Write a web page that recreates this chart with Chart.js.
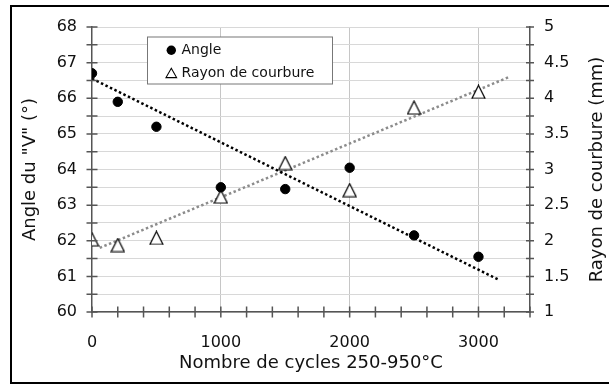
<!DOCTYPE html>
<html>
<head>
<meta charset="utf-8">
<script src="https://cdn.jsdelivr.net/npm/chart.js@4.4.0/dist/chart.umd.min.js"></script>
<style>
    html, body { margin: 0; padding: 0; background: #fff; overflow: hidden; }
    #frame { position: absolute; left: 10px; top: 5px; width: 700px; height: 375px; border: 2px solid #000; }
    #myChart { position: absolute; left: 0; top: 0; }
</style>
</head>
<body>
<div id="frame"></div>
<canvas id="myChart" width="609" height="385"></canvas>
<script>
// measurements
var cycles = [0, 200, 500, 1000, 1500, 2000, 2500, 3000];
var angle = [66.7, 65.9, 65.2, 63.5, 63.45, 64.05, 62.15, 61.55];
var rayon = [2.02, 1.94, 2.04, 2.62, 3.09, 2.71, 3.87, 4.09];

// trend lines (end points)
var angleTrendX = [0, 3160];
var angleTrendY = [66.55, 60.9];
var rayonTrendX = [60, 3240];
var rayonTrendY = [1.9, 4.3];

var FONT = 'DejaVu Sans';
var TEXT = '#111';
var AXIS = '#555';

function pairs(xs, ys) {
    return xs.map(function(x, i) { return { x: x, y: ys[i] }; });
}

// open triangle marker, centred on its bounding box
function triangleMarker(size, lw) {
    var c = document.createElement('canvas');
    c.width = size + 2;
    c.height = size + 2;
    var g = c.getContext('2d');
    g.lineWidth = lw;
    g.strokeStyle = '#000';
    g.fillStyle = '#fff';
    g.beginPath();
    g.moveTo(c.width / 2, 1);
    g.lineTo(c.width - 1, c.height - 1);
    g.lineTo(1, c.height - 1);
    g.closePath();
    g.fill();
    g.stroke();
    return c;
}

var triMarker = triangleMarker(13, 1.2);

var decor = {
    id: 'decor',
    afterDraw: function(chart) {
        var ctx = chart.ctx;
        var area = chart.chartArea;
        var sx = chart.scales.x, sy = chart.scales.y, sy1 = chart.scales.y1;
        ctx.save();
        ctx.strokeStyle = AXIS;
        ctx.lineWidth = 1.5;
        ctx.beginPath();
        sx.ticks.forEach(function(t) {
            var p = sx.getPixelForValue(t.value);
            ctx.moveTo(p, area.bottom - 5.5);
            ctx.lineTo(p, area.bottom + 5.5);
        });
        sy.ticks.forEach(function(t) {
            var p = sy.getPixelForValue(t.value);
            ctx.moveTo(area.left - 5.5, p);
            ctx.lineTo(area.left + 5.5, p);
        });
        sy1.ticks.forEach(function(t) {
            var p = sy1.getPixelForValue(t.value);
            ctx.moveTo(area.right - 4, p);
            ctx.lineTo(area.right + 4, p);
        });
        ctx.stroke();

        // right axis title, reading bottom to top
        ctx.fillStyle = TEXT;
        ctx.font = '18px "' + FONT + '"';
        ctx.textAlign = 'center';
        ctx.textBaseline = 'middle';
        ctx.translate(597, (area.top + area.bottom) / 2);
        ctx.rotate(-Math.PI / 2);
        ctx.fillText('Rayon de courbure (mm)', 0, 0);
        ctx.restore();

        // legend box
        ctx.save();
        ctx.fillStyle = '#fff';
        ctx.fillRect(147.5, 37, 185, 47);
        ctx.strokeStyle = '#777';
        ctx.lineWidth = 1;
        ctx.strokeRect(147.5, 37, 185, 47);
        ctx.fillStyle = '#000';
        ctx.beginPath();
        ctx.arc(171.3, 50.3, 4.7, 0, Math.PI * 2);
        ctx.fill();
        ctx.strokeStyle = '#000';
        ctx.lineWidth = 1.1;
        ctx.beginPath();
        ctx.moveTo(171.3, 68.3);
        ctx.lineTo(176.6, 77.6);
        ctx.lineTo(166, 77.6);
        ctx.closePath();
        ctx.stroke();
        ctx.fillStyle = TEXT;
        ctx.font = '14px "' + FONT + '"';
        ctx.textAlign = 'left';
        ctx.textBaseline = 'middle';
        ctx.fillText(chart.data.datasets[0].label, 181.5, 50);
        ctx.fillText(chart.data.datasets[1].label, 181.5, 73);
        ctx.restore();
    }
};

Chart.defaults.font.family = FONT;
Chart.defaults.color = TEXT;

var ctx = document.getElementById('myChart').getContext('2d');
var chart = new Chart(ctx, {
    type: 'scatter',
    data: {
        datasets: [
            {
                label: 'Angle',
                data: pairs(cycles, angle),
                yAxisID: 'y',
                pointStyle: 'circle',
                pointRadius: 4.7,
                backgroundColor: '#000',
                borderColor: '#000',
                borderWidth: 1
            },
            {
                label: 'Rayon de courbure',
                data: pairs(cycles, rayon),
                yAxisID: 'y1',
                pointStyle: triMarker,
                pointRadius: 7
            },
            {
                label: 'Angle (tendance)',
                data: pairs(angleTrendX, angleTrendY),
                yAxisID: 'y',
                showLine: true,
                fill: false,
                borderColor: '#000',
                borderWidth: 2.5,
                borderDash: [2.5, 2.5],
                pointRadius: 0
            },
            {
                label: 'Rayon (tendance)',
                data: pairs(rayonTrendX, rayonTrendY),
                yAxisID: 'y1',
                showLine: true,
                fill: false,
                borderColor: '#8c8c8c',
                borderWidth: 2.5,
                borderDash: [2.5, 2.5],
                pointRadius: 0
            }
        ]
    },
    options: {
        responsive: false,
        animation: false,
        layout: {
            padding: { top: 27, left: 0, right: 0, bottom: 0 }
        },
        scales: {
            x: {
                type: 'linear',
                position: 'bottom',
                min: 0,
                max: 3400,
                afterFit: function(s) { s.height = 73; },
                ticks: {
                    stepSize: 200,
                    autoSkip: false,
                    maxRotation: 0,
                    padding: 21,
                    font: { size: 16 },
                    callback: function(value) {
                        return value % 1000 === 0 ? value : '';
                    }
                },
                grid: {
                    drawTicks: false,
                    color: function(c) {
                        if (c.tick && c.tick.value > 0 && c.tick.value % 1000 === 0) return '#c6c6c6';
                        return 'rgba(0,0,0,0)';
                    }
                },
                border: { color: AXIS, width: 1.5 },
                title: {
                    display: true,
                    text: 'Nombre de cycles 250-950°C',
                    font: { size: 18 },
                    padding: { top: 0, bottom: 11 }
                }
            },
            y: {
                position: 'left',
                min: 60,
                max: 68,
                afterFit: function(s) { s.width = 92; },
                ticks: {
                    stepSize: 0.5,
                    autoSkip: false,
                    padding: 15,
                    font: { size: 16 },
                    callback: function(value) {
                        return Number.isInteger(value) ? value : '';
                    }
                },
                grid: {
                    drawTicks: false,
                    color: '#d8d8d8'
                },
                border: { color: AXIS, width: 1.5 },
                title: {
                    display: true,
                    text: 'Angle du "V" (°)',
                    font: { size: 18 },
                    padding: { top: 20, bottom: 0 }
                }
            },
            y1: {
                position: 'right',
                min: 1,
                max: 5,
                afterFit: function(s) { s.width = 79; },
                ticks: {
                    stepSize: 0.25,
                    autoSkip: false,
                    padding: 14,
                    font: { size: 16 },
                    callback: function(value) {
                        return Number.isInteger(value * 2) ? value : '';
                    }
                },
                grid: {
                    drawTicks: false,
                    drawOnChartArea: false
                },
                border: { color: AXIS, width: 1.5 }
            }
        },
        plugins: {
            legend: { display: false },
            tooltip: { enabled: false }
        }
    },
    plugins: [decor]
});
</script>
</body>
</html>
